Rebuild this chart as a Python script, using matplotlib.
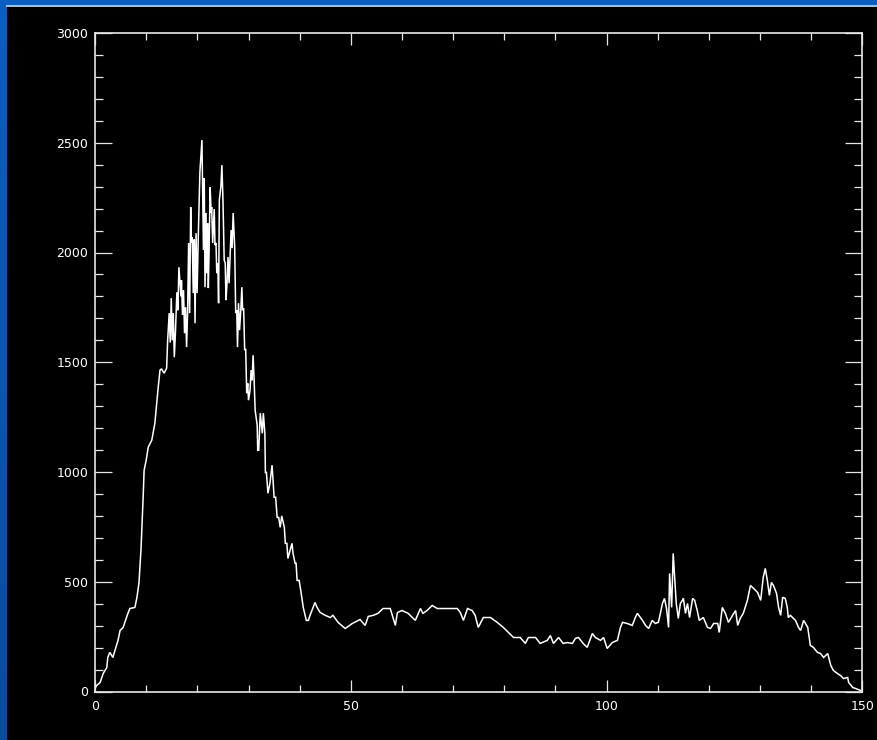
import numpy as np
import matplotlib
matplotlib.use("Agg")
import matplotlib.pyplot as plt
from matplotlib.patches import Rectangle
from matplotlib.lines import Line2D
from matplotlib.ticker import MultipleLocator
from matplotlib.colors import LinearSegmentedColormap

# ---- data ----
bins = [0.0, 0.3, 1.0, 1.6, 2.3, 2.5, 2.9, 3.5, 3.9, 4.5, 4.9, 5.5, 6.3, 6.8, 7.8, 8.2,
        8.6, 9.0, 9.4, 9.6, 10.0, 10.4, 11.1, 11.7, 12.3, 12.7,
        13.0, 13.5, 14.0, 14.2, 14.5, 14.7, 14.9, 15.1, 15.3, 15.5, 15.7, 16.0, 16.2, 16.4,
        16.8, 16.9, 17.1, 17.3, 17.5, 17.7, 17.9, 18.1, 18.3, 18.5, 18.7, 18.85, 19.0, 19.2,
        19.4, 19.55, 19.75, 19.95, 20.2, 20.5, 20.9, 21.2, 21.35, 21.5, 21.7, 21.85, 22.0,
        22.15, 22.3, 22.5, 22.7, 22.8, 23.0, 23.3, 23.45, 23.65, 23.8, 24.0, 24.15, 24.3,
        24.6, 24.8, 25.0, 25.25, 25.45, 25.6, 25.8, 26.0, 26.2, 26.4, 26.6, 26.8, 27.0, 27.3,
        27.5, 27.7, 27.85, 28.05, 28.25, 28.5, 28.7, 28.85, 29.05, 29.25, 29.45, 29.65, 29.85,
        30.0, 30.3, 30.5, 30.7, 30.9, 31.1, 31.3, 31.7, 31.8, 32.0, 32.3, 32.7, 32.9, 33.2,
        33.3, 33.5, 33.8, 34.2, 34.6, 34.8, 35.0, 35.3, 35.6, 35.9, 36.2, 36.5, 36.8, 37.0,
        37.2, 37.5, 37.7, 38.1, 38.5, 38.7, 39.1, 39.3, 39.5, 39.9, 40.3, 40.7, 41.3, 41.7,
        42.0, 42.4, 43.0, 43.4, 44.0, 45.0, 46.0, 46.5, 47.5, 48.9, 50.3, 51.8,
        52.8, 53.4, 54.4, 55.3, 56.3, 57.7, 58.7, 59.1, 60.0, 61.2, 62.6, 63.6, 64.1, 64.9,
        65.9, 66.9, 68.1, 69.4, 70.8, 71.4, 72.0, 72.8, 73.7, 74.3, 74.9, 75.9, 77.3, 78.6,
        79.8, 80.8, 81.8, 83.1, 84.1, 84.7, 86.1, 87.0, 88.4, 89.0, 89.6, 90.6, 91.5, 92.3,
        93.3, 93.9, 94.5, 95.4, 96.2, 97.2, 97.8, 98.8, 99.4, 100.1, 101.1, 102.1, 102.7,
        103.1, 104.0, 105.0, 105.6, 106.0, 107.0, 107.6, 108.2, 108.9, 109.5, 110.1, 110.5,
        110.9, 111.3, 111.7, 112.1, 112.3, 112.7, 113.0, 113.2, 113.6, 114.0, 114.4, 114.8,
        115.0, 115.4, 115.8, 116.2, 116.8, 117.2, 117.7, 118.1, 118.9, 119.7, 120.3, 120.9,
        121.7, 122.0, 122.6, 123.2, 123.8, 124.6, 125.2, 125.6, 126.1, 126.7, 127.5, 128.1,
        128.7, 129.5, 130.1, 130.6, 131.0, 131.4, 131.8, 132.2, 132.6, 133.2, 133.6, 134.0,
        134.4, 134.9, 135.3, 135.5, 135.9, 136.5, 136.9, 137.5, 137.9, 138.5, 139.3, 139.8,
        140.4, 141.2, 141.8, 142.4, 143.2, 143.8, 144.3, 145.1, 145.7, 146.3, 147.1, 147.3,
        148.1, 148.6, 149.6]
counts = [14, 27, 41, 82, 109, 155, 178, 155, 187, 233, 278, 292, 347, 378, 383, 429,
          497, 652, 880, 1008, 1053, 1113, 1145, 1222, 1373, 1464,
          1470, 1450, 1473, 1600, 1724, 1590, 1792, 1600, 1724, 1523, 1623, 1819, 1737, 1933,
          1800, 1874, 1715, 1829, 1632, 1751, 1569, 1728, 2043, 1724, 2207, 2047, 2070, 1815,
          2060, 1678, 2088, 1815, 2088, 2367, 2512, 2011, 2339, 1842, 2180, 1906, 2134,
          1838, 2011, 2298, 2180, 2207, 2043, 2198, 2034, 2043, 1906, 1952, 1769, 2239,
          2300, 2398, 2248, 1965, 1952, 1783, 1860, 1979, 1860, 1979, 2102, 2020, 2180, 2025,
          1724, 1737, 1569, 1769, 1646, 1740, 1842, 1737, 1746, 1555, 1560, 1359, 1404,
          1327, 1373, 1464, 1418, 1532, 1418, 1281, 1213, 1099, 1099, 1268, 1176, 1268, 1176,
          998, 998, 903, 950, 1031, 962, 885, 885, 793, 793, 748, 800, 770, 748,
          675, 675, 606, 640, 675, 630, 584, 584, 506, 506, 447, 383, 324, 324,
          345, 369, 406, 383, 360, 347, 337, 347, 315, 287, 310, 328,
          301, 342, 347, 356, 378, 378, 301, 360, 369, 356, 324, 378, 356, 369,
          392, 378, 378, 378, 378, 360, 324, 378, 369, 347, 292, 337, 337, 315,
          292, 269, 246, 246, 219, 246, 246, 219, 233, 255, 219, 246, 219, 223,
          219, 242, 246, 219, 201, 264, 246, 233, 246, 196, 223, 233, 292,
          315, 310, 301, 337, 356, 324, 301, 287, 324, 310, 315, 356,
          401, 424, 378, 292, 538, 383, 629, 552, 401, 333, 401, 415,
          424, 356, 401, 337, 424, 415, 369, 324, 337, 292, 287, 310,
          310, 269, 383, 356, 315, 347, 369, 301, 333, 356, 415, 483,
          470, 451, 415, 520, 561, 506, 438, 497, 483, 447, 383, 347,
          429, 424, 383, 337, 347, 333, 324, 292, 278, 324, 292, 210,
          201, 178, 173, 155, 173, 119, 96, 82, 73, 59, 64, 41,
          18, 14, 5]

x_major = [0, 50, 100, 150]
x_labels = ["0", "50", "100", "150"]
y_major = [0, 500, 1000, 1500, 2000, 2500, 3000]
y_labels = ["0", "500", "1000", "1500", "2000", "2500", "3000"]

W, H = 878, 740
fig = plt.figure(figsize=(W / 100, H / 100), dpi=100, facecolor="black")

# blue frame strips
grad = fig.add_axes([0, 0, 7 / W, 1])
g = np.linspace(0, 1, 256).reshape(-1, 1)
cm = LinearSegmentedColormap.from_list("b", ["#0a4c9e", "#0a5fc0"])
grad.imshow(g, aspect="auto", cmap=cm, origin="lower", extent=[0, 1, 0, 1])
grad.set_axis_off()
fig.patches.append(Rectangle((0, 1 - 5 / H), 1, 5 / H, transform=fig.transFigure,
                             facecolor="#0a5fc0", edgecolor="none", zorder=0))
fig.lines.append(Line2D([7 / W, 1], [1 - 6 / H, 1 - 6 / H], transform=fig.transFigure,
                        color="#e0e0e0", lw=1.2))

left, right, top, bottom = 95, 862.5, 33, 691.5
ax = fig.add_axes([left / W, 1 - bottom / H, (right - left) / W, (bottom - top) / H])
ax.set_facecolor("black")
ax.plot(bins, counts, color="white", lw=1.1, solid_joinstyle="miter")
ax.set_xlim(0, 150)
ax.set_ylim(0, 3000)

for s in ax.spines.values():
    s.set_color("#e8e8e8")
    s.set_linewidth(1.2)

ax.set_xticks(x_major)
ax.set_xticklabels(x_labels)
ax.set_yticks(y_major)
ax.set_yticklabels(y_labels)
ax.xaxis.set_minor_locator(MultipleLocator(10))
ax.yaxis.set_minor_locator(MultipleLocator(100))

ax.tick_params(axis="x", which="major", direction="in", length=8.6, width=0.9,
               colors="#e8e8e8", top=True, bottom=True, pad=6, labelsize=9)
ax.tick_params(axis="x", which="minor", direction="in", length=5, width=0.9,
               colors="#e8e8e8", top=True, bottom=True)
ax.tick_params(axis="y", which="major", direction="in", length=12, width=0.9,
               colors="#e8e8e8", left=True, right=True, pad=5, labelsize=9)
ax.tick_params(axis="y", which="minor", direction="in", length=5.8, width=0.9,
               colors="#e8e8e8", left=True, right=True)
for lab in ax.get_xticklabels() + ax.get_yticklabels():
    lab.set_color("white")

fig.savefig("out.png", dpi=100, facecolor="black")
